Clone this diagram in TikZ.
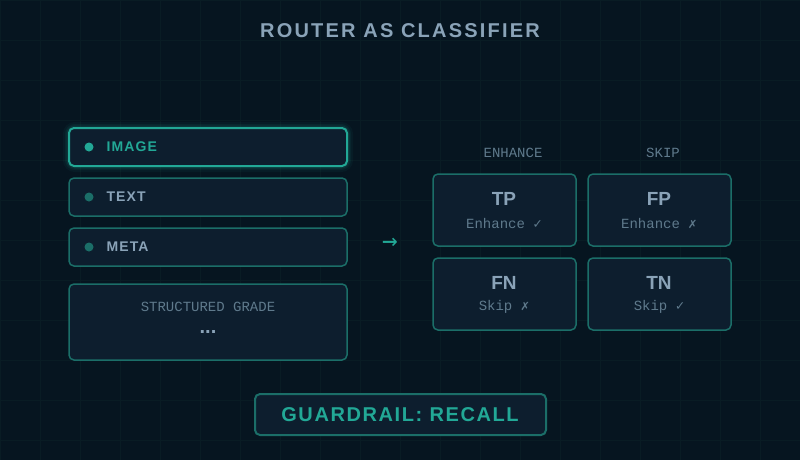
\documentclass[tikz,border=0pt]{standalone}
\usepackage{fontspec}
\setmainfont{Liberation Sans}
\newfontfamily\spaced{Liberation Sans}[LetterSpace=11]
\newfontfamily\spacedg{Liberation Sans}[LetterSpace=8]
\newfontfamily\spacedb{Liberation Sans}[LetterSpace=8]
\newfontfamily\monof{Liberation Mono}
\newfontfamily\symf{DejaVu Sans Mono}
\begin{document}
\definecolor{bg}{HTML}{061520}
\definecolor{boxbg}{HTML}{0D1E2E}
\definecolor{edge}{HTML}{1B6E68}
\definecolor{bright}{HTML}{22A896}
\definecolor{txt}{HTML}{8AA3B8}
\definecolor{dim}{HTML}{5F7A8C}
\definecolor{gridc}{HTML}{091C24}
\begin{tikzpicture}[x=1pt,y=-1pt,
  box/.style={draw=edge,line width=1.5pt,fill=boxbg,rounded corners=5pt},
  lab/.style={font=\spacedb\bfseries\fontsize{14}{16}\selectfont,text=txt,anchor=west},
  dot/.style={circle,fill=edge,inner sep=0pt,minimum size=9pt},
  mono/.style={font=\monof\fontsize{14}{16}\selectfont,text=dim},
  big/.style={font=\bfseries\fontsize{19}{21}\selectfont,text=txt}]
\fill[bg] (0,0) rectangle (800,460);
\useasboundingbox (0,0) rectangle (800,460);
\foreach \i in {0,40,...,800} \draw[gridc,line width=0.6pt] (\i,0) -- (\i,460);
\foreach \j in {0,40,...,460} \draw[gridc,line width=0.6pt] (0,\j) -- (800,\j);
\node[font=\spaced\bfseries\fontsize{20}{22}\selectfont,text=txt] (title) at (400,31) {ROUTER AS CLASSIFIER};
% glow
\foreach \w/\o in {12/0.05,8/0.08,5/0.12}
  \draw[bright,opacity=\o,line width=\w pt,rounded corners=6pt] (69,128) rectangle (347,166);
\draw[box,draw=bright,line width=2pt] (69,128) rectangle (347,166);
\node[dot,fill=bright] (d1) at (89,147) {};
\node[lab,text=bright] (image) at (103,147) {IMAGE};
\draw[box] (69,178) rectangle (347,216);
\node[dot] (d2) at (89,197) {};
\node[lab] (text) at (103,197) {TEXT};
\draw[box] (69,228) rectangle (347,266);
\node[dot] (d3) at (89,247) {};
\node[lab] (meta) at (103,247) {META};
\draw[box] (69,284) rectangle (347,360);
\node[mono] (sg) at (208,307) {STRUCTURED GRADE};
\node[font=\bfseries\fontsize{20}{22}\selectfont,text=txt] (dots) at (208,332) {...};
\node[font=\symf\fontsize{26}{28}\selectfont,text=bright] (arr) at (390,244) {→};
\node[mono] (enh) at (513,153) {ENHANCE};
\node[mono] (skip) at (663,153) {SKIP};
\draw[box] (433,174) rectangle (576,246);
\draw[box] (588,174) rectangle (731,246);
\draw[box] (433,258) rectangle (576,330);
\draw[box] (588,258) rectangle (731,330);
\node[big] (tp) at (504,199) {TP};
\node[mono] (tps) at (504,223) {Enhance {\symf ✓}};
\node[big] (fp) at (659,199) {FP};
\node[mono] (fps) at (659,223) {Enhance {\symf ✗}};
\node[big] (fn) at (504,283) {FN};
\node[mono] (fns) at (504,307) {Skip {\symf ✗}};
\node[big] (tn) at (659,283) {TN};
\node[mono] (tns) at (659,307) {Skip {\symf ✓}};
\draw[box,line width=2pt] (255,394) rectangle (546,435);
\node[font=\spacedg\bfseries\fontsize{20}{22}\selectfont,text=bright] (gr) at (400,414.5) {GUARDRAIL: RECALL};
\end{tikzpicture}
\end{document}
